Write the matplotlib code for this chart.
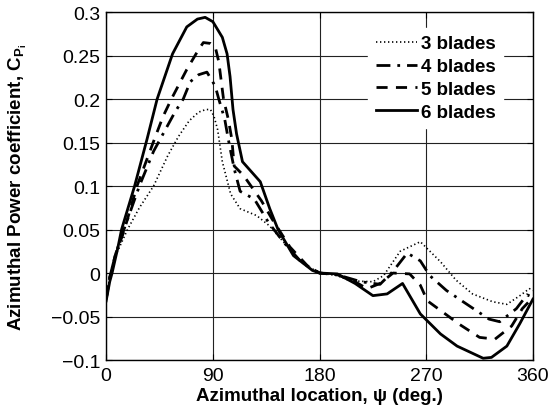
import numpy as np
import matplotlib.pyplot as plt

plt.rcParams['font.family'] = ['Liberation Sans', 'DejaVu Sans']
plt.rcParams['mathtext.fontset'] = 'custom'
plt.rcParams['mathtext.rm'] = 'Liberation Sans'
plt.rcParams['mathtext.bf'] = 'Liberation Sans:bold'

# azimuth (deg) and Cp values
psi_3 = [0, 3, 8, 18, 28, 40, 52, 61, 70, 78, 84, 88, 91, 94, 98, 105, 113, 127, 138, 150, 165, 180,
         195, 206, 225, 234, 248, 265, 282, 295, 309, 326, 338, 349, 357, 360]
cp_3 = [-0.03, -0.005, 0.02, 0.05, 0.075, 0.1, 0.135, 0.157, 0.175, 0.185, 0.188, 0.188, 0.18, 0.165,
        0.128, 0.091, 0.074, 0.066, 0.054, 0.035, 0.012, 0.0,
        -0.003, -0.009, -0.01, -0.003, 0.025, 0.036, 0.013, -0.008, -0.024, -0.033, -0.036, -0.026,
        -0.018, -0.02]

psi_4 = [0, 3, 8, 15, 28, 40, 50, 58, 65, 71, 78, 85, 92, 95, 100, 103, 108, 113, 125, 137, 150, 165,
         180, 195, 215, 231, 242, 254, 265, 273, 287, 300, 323, 332, 346, 355, 360]
cp_4 = [-0.03, -0.005, 0.022, 0.05, 0.1, 0.14, 0.165, 0.185, 0.2, 0.22, 0.228, 0.231, 0.215, 0.2, 0.177,
        0.154, 0.12, 0.094, 0.085, 0.058, 0.035, 0.012,
        0.0, -0.002, -0.01, -0.013, 0.002, 0.023, 0.014, -0.003, -0.02, -0.032, -0.053, -0.056, -0.041,
        -0.025, -0.028]

psi_5 = [0, 3, 8, 15, 26, 41, 48, 55, 68, 78, 82, 88, 92, 95, 99, 103, 106, 108, 116, 131, 140, 155,
         170, 180, 195, 210, 220, 231, 242, 256, 265, 271, 284, 298, 315, 328, 342, 351, 360]
cp_5 = [-0.03, -0.005, 0.022, 0.048, 0.1, 0.155, 0.18, 0.2, 0.234, 0.257, 0.265, 0.264, 0.26, 0.243,
        0.2, 0.177, 0.154, 0.123, 0.112, 0.083, 0.062, 0.03, 0.008, 0.0,
        -0.002, -0.01, -0.018, -0.012, 0.0, -0.001, -0.014, -0.032, -0.045, -0.059, -0.074, -0.076,
        -0.061, -0.041, -0.028]

psi_6 = [0, 3, 5, 10, 13, 24, 34.5, 43, 56, 68, 77, 83.5, 90, 98, 102, 104.5, 107, 110, 115, 130, 138,
         145, 158, 174, 180, 195, 210, 225, 237, 250, 265, 282, 296, 318, 325, 338, 349, 360]
cp_6 = [-0.032, -0.01, 0.0, 0.03, 0.05, 0.1, 0.154, 0.2, 0.252, 0.283, 0.292, 0.294, 0.289, 0.271,
        0.252, 0.226, 0.188, 0.16, 0.128, 0.105, 0.074, 0.05, 0.02, 0.003, 0.0,
        -0.001, -0.012, -0.026, -0.024, -0.012, -0.047, -0.07, -0.084, -0.098, -0.097, -0.084,
        -0.058, -0.03]

x_ticks = [0, 90, 180, 270, 360]
y_ticks = [-0.1, -0.05, 0, 0.05, 0.1, 0.15, 0.2, 0.25, 0.3]
y_tick_labels = ['\u22120.1', '\u22120.05', '0', '0.05', '0.1', '0.15', '0.2', '0.25', '0.3']

fig = plt.figure(figsize=(5.5, 4.1), dpi=100)
ax = fig.add_axes([0.193, 0.1195, 0.776, 0.8485])

ax.plot(psi_3, cp_3, color='black', lw=1.2, linestyle=(0, (0.8, 1.6)), label='3 blades')
ax.plot(psi_4, cp_4, color='black', lw=2.0, linestyle=(0, (5, 2.5, 1, 2.5)), label='4 blades')
ax.plot(psi_5, cp_5, color='black', lw=2.0, linestyle=(0, (4, 3)), label='5 blades')
ax.plot(psi_6, cp_6, color='black', lw=2.0, linestyle='-', label='6 blades')

ax.set_xlim(0, 360)
ax.set_ylim(-0.1, 0.3)
ax.set_xticks(x_ticks)
ax.set_yticks(y_ticks)
ax.set_yticklabels(y_tick_labels)
ax.tick_params(direction='in', labelsize=14, length=4, top=True, right=True)
ax.tick_params(axis='y', pad=4)
ax.tick_params(axis='x', pad=5)
ax.grid(True, color='#222222', linewidth=0.8, linestyle='-')
ax.set_axisbelow(True)
for s in ax.spines.values():
    s.set_linewidth(1.0)

ax.set_xlabel('Azimuthal location, \u03c8 (deg.)', fontsize=13.5, fontweight='bold')
ax.set_ylabel(r'Azimuthal Power coefficient, C$_{\mathbf{P}_{\mathbf{i}}}$', fontsize=13.5,
              fontweight='bold')
ax.xaxis.set_label_coords(0.5, -0.078)
ax.yaxis.set_label_coords(-0.18, 0.5)

leg = ax.legend(loc='upper right', bbox_to_anchor=(0.952, 0.982), frameon=True, fancybox=False,
                edgecolor='white', facecolor='white', framealpha=1.0, fontsize=13.5,
                handlelength=2.2, handletextpad=0.2, labelspacing=0.3, borderpad=0.4)
for t in leg.get_texts():
    t.set_fontweight('bold')

fig.savefig('out.png', dpi=100)
